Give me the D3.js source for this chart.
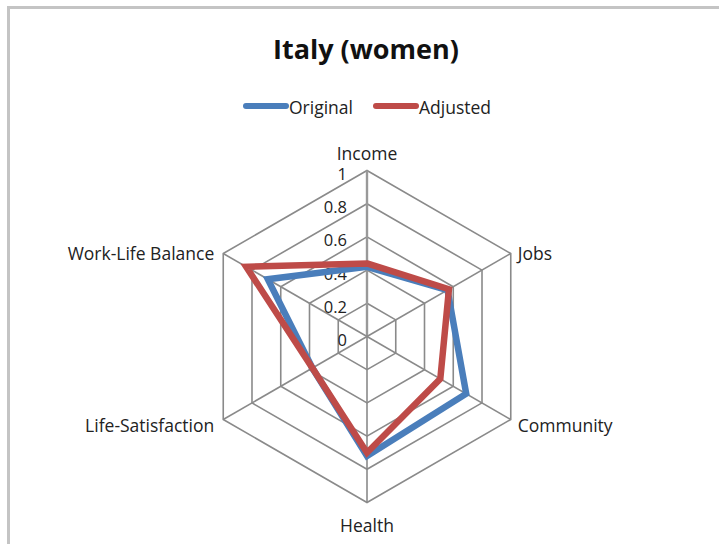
<!DOCTYPE html>
<html>
<head>
<meta charset="utf-8">
<script src="https://cdn.jsdelivr.net/npm/d3@7"></script>
<style>
  html, body { margin: 0; padding: 0; background: #fff; }
  svg { display: block; }
</style>
</head>
<body>
<svg id="chart" width="719" height="544"></svg>
<script>
const title = "Italy (women)";
const categories = ["Income", "Jobs", "Community", "Health", "Life-Satisfaction", "Work-Life Balance"];
const seriesNames = ["Original", "Adjusted"];
const original = [0.42, 0.56, 0.69, 0.72, 0.38, 0.69];
const adjusted = [0.44, 0.57, 0.51, 0.70, 0.38, 0.84];
const tickValues = [0, 0.2, 0.4, 0.6, 0.8, 1];
const tickLabels = ["0", "0.2", "0.4", "0.6", "0.8", "1"];
const colors = ["#4a7ebb", "#be4b48"];

const svg = d3.select("#chart");
const W = 719, H = 544;
const cx = 367, cy = 336.5, R = 166;
const font = "'Open Sans', sans-serif";

// border
svg.append("path")
  .attr("d", `M8.5,${H} L8.5,7.5 L${W},7.5`)
  .attr("fill", "none").attr("stroke", "#c4c4c4").attr("stroke-width", 3);

const r = d3.scaleLinear().domain([0, 1]).range([0, R]);
const angle = d3.scalePoint().domain(categories).range([0, 2 * Math.PI * (categories.length - 1) / categories.length]);
const pt = (cat, v) => {
  const a = angle(cat);
  return [cx + r(v) * Math.sin(a), cy - r(v) * Math.cos(a)];
};

const g = svg.append("g");
// rings
tickValues.filter(v => v > 0).forEach(v => {
  g.append("path")
    .attr("d", d3.line()(categories.map(c => pt(c, v))) + "Z")
    .attr("fill", "none").attr("stroke", "#8a8a8a").attr("stroke-width", 1.6);
});
// spokes
categories.forEach((c, i) => {
  const [x, y] = pt(c, 1);
  g.append("line").attr("x1", cx).attr("y1", cy).attr("x2", x).attr("y2", y)
    .attr("stroke", i === 0 ? "#999" : "#8a8a8a").attr("stroke-width", i === 0 ? 2.4 : 1.6);
});

// tick labels
tickValues.forEach((v, i) => {
  g.append("text")
    .attr("x", cx - 20).attr("y", cy - r(v) + 9.5)
    .attr("text-anchor", "end")
    .attr("font-family", font).attr("font-size", 16.5)
    .attr("fill", "#222")
    .text(tickLabels[i]);
});

// series
[original, adjusted].forEach((vals, s) => {
  g.append("path")
    .attr("d", d3.line()(categories.map((c, i) => pt(c, vals[i]))) + "Z")
    .attr("fill", "none").attr("stroke", colors[s]).attr("stroke-width", 6.5)
    .attr("stroke-linejoin", "miter");
});

// category labels
categories.forEach(c => {
  const a = angle(c);
  const [x, y] = pt(c, 1);
  const sx = Math.sin(a), cyy = -Math.cos(a);
  const t = g.append("text")
    .attr("font-family", font).attr("font-size", 17.5).attr("fill", "#222").text(c);
  if (Math.abs(sx) < 0.01) {
    t.attr("text-anchor", "middle").attr("x", x).attr("y", cyy < 0 ? y - 10.5 : y + 29);
  } else {
    t.attr("text-anchor", sx > 0 ? "start" : "end")
      .attr("x", x + (sx > 0 ? 7 : -9))
      .attr("y", y + (cyy > 0 ? 6 : 0))
      .attr("dy", "0.35em");
  }
});

// title
svg.append("text")
  .attr("x", 366).attr("y", 58.5)
  .attr("text-anchor", "middle")
  .attr("font-family", font).attr("font-weight", "bold").attr("font-size", 27)
  .attr("fill", "#111")
  .text(title);

// legend
const legendX = [243, 373];
seriesNames.forEach((name, s) => {
  const lg = svg.append("g");
  lg.append("line")
    .attr("x1", legendX[s] + 3).attr("x2", legendX[s] + 43)
    .attr("y1", 106).attr("y2", 106)
    .attr("stroke", colors[s]).attr("stroke-width", 6).attr("stroke-linecap", "round");
  lg.append("text")
    .attr("x", legendX[s] + 46).attr("y", 114)
    .attr("font-family", font).attr("font-size", 17.5).attr("fill", "#222")
    .text(name);
});
</script>
</body>
</html>
